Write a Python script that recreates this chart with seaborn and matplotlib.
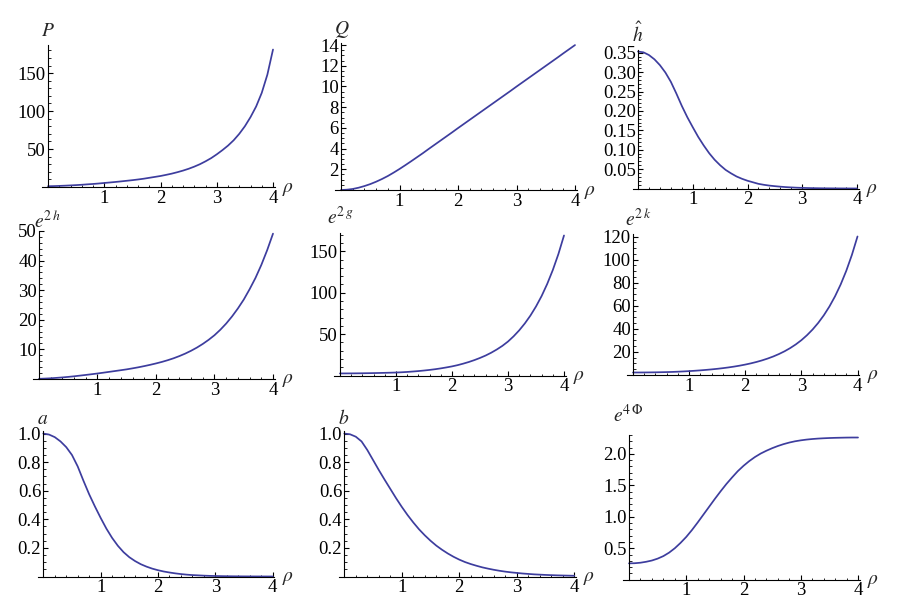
import numpy as np
import matplotlib
matplotlib.use("Agg")
import matplotlib.pyplot as plt
import matplotlib.ticker as mticker
import seaborn as sns

# ─── Visual setup ────────────────────────────────────────────
sns.set_theme(style="white")
plt.rcParams.update({
    "font.size":          13.5,
    "mathtext.fontset":   "stix",
    "axes.linewidth":     0.8,
    "xtick.direction":    "in",
    "ytick.direction":    "in",
    "xtick.major.size":   3.5,
    "ytick.major.size":   3.5,
    "xtick.minor.size":   1.8,
    "ytick.minor.size":   1.8,
    "xtick.major.width":  0.8,
    "ytick.major.width":  0.8,
    "xtick.minor.width":  0.6,
    "ytick.minor.width":  0.6,
    "xtick.color":        "black",
    "ytick.color":        "black",
    "axes.edgecolor":     "black",
})
plt.rcParams["font.family"] = ["Liberation Serif", "DejaVu Serif"]

LINE = "#3d3d9e"
W, H = 900, 615

# ─── Data ────────────────────────────────────────────────────
rho = [0.0, 0.1, 0.2, 0.3, 0.4, 0.5, 0.6, 0.7, 0.8, 0.9,
       1.0, 1.1, 1.2, 1.3, 1.4, 1.5, 1.6, 1.7, 1.8, 1.9,
       2.0, 2.1, 2.2, 2.3, 2.4, 2.5, 2.6, 2.7, 2.8, 2.9,
       3.0, 3.1, 3.2, 3.3, 3.4, 3.5, 3.6, 3.7, 3.8, 3.9, 4.0]

P = [1.0, 1.2, 1.45, 1.75, 2.1, 2.5, 2.95, 3.5, 4.0, 4.6,
     5.3, 5.95, 6.65, 7.4, 8.2, 9.0, 9.9, 10.9, 12.1, 13.3,
     14.5, 16.0, 17.6, 19.5, 21.6, 24, 26.8, 30.0, 33.8, 38.0,
     43, 48.5, 54.5, 61.5, 70, 80, 92, 106, 124, 148, 181]
Q = [0.0, 0.03, 0.1, 0.22, 0.38, 0.57, 0.8, 1.06, 1.35, 1.68,
     2.03, 2.4, 2.78, 3.17, 3.56, 3.97, 4.37, 4.77, 5.17, 5.57,
     5.98, 6.38, 6.78, 7.18, 7.58, 7.98, 8.38, 8.78, 9.18, 9.58,
     9.99, 10.39, 10.79, 11.19, 11.59, 11.99, 12.39, 12.79, 13.2, 13.6, 14.0]
h_hat = [0.353, 0.351, 0.344, 0.333, 0.318, 0.299, 0.275, 0.245, 0.213, 0.184,
         0.158, 0.133, 0.111, 0.091, 0.074, 0.06, 0.048, 0.039, 0.031, 0.025,
         0.02, 0.016, 0.012, 0.0095, 0.0075, 0.006, 0.0047, 0.0036, 0.0028, 0.0021,
         0.0016, 0.0012, 0.0009, 0.0007, 0.0005, 0.0004, 0.0003, 0.0002, 0.00015,
         0.0001, 0.0001]
e2h = [0.0, 0.08, 0.18, 0.32, 0.47, 0.65, 0.85, 1.08, 1.31, 1.55,
       1.8, 2.07, 2.35, 2.63, 2.91, 3.2, 3.54, 3.9, 4.3, 4.73,
       5.2, 5.71, 6.29, 6.94, 7.69, 8.53, 9.49, 10.57, 11.8, 13.19,
       14.75, 16.6, 18.7, 21.1, 23.8, 26.8, 30.3, 34.1, 38.5, 43.5, 49.1]
e2g = [2.5, 2.52, 2.56, 2.62, 2.7, 2.8, 2.92, 3.06, 3.22, 3.4,
       3.6, 3.9, 4.3, 4.8, 5.35, 6.0, 6.75, 7.6, 8.6, 9.75,
       11, 12.5, 14.3, 16.3, 18.6, 21.2, 24.1, 27.5, 31.4, 35.8,
       41, 47.3, 54.5, 62.8, 72.3, 83.3, 95.9, 110.5, 127.3, 146.6, 169]
e2k = [2.0, 2.01, 2.04, 2.09, 2.16, 2.25, 2.36, 2.5, 2.7, 2.93,
       3.2, 3.51, 3.86, 4.26, 4.7, 5.2, 5.76, 6.4, 7.12, 7.94,
       8.88, 9.94, 11.15, 12.53, 14.12, 15.93, 18.02, 20.41, 23.18, 26.37,
       30.06, 34.38, 39.34, 45.07, 51.68, 59.33, 68.18, 78.43, 90.31, 104.1, 120.1]
a = [1.0, 0.993, 0.975, 0.945, 0.905, 0.85, 0.77, 0.67, 0.575, 0.49,
     0.41, 0.335, 0.27, 0.215, 0.17, 0.135, 0.108, 0.086, 0.069, 0.055,
     0.044, 0.035, 0.028, 0.022, 0.017, 0.013, 0.01, 0.008, 0.006, 0.0045,
     0.0035, 0.0027, 0.002, 0.0015, 0.0011, 0.0008, 0.0006, 0.0004, 0.0003,
     0.0002, 0.0001]
b = [1.0, 0.995, 0.978, 0.945, 0.885, 0.815, 0.745, 0.678, 0.613, 0.548,
     0.487, 0.43, 0.378, 0.33, 0.288, 0.25, 0.216, 0.187, 0.161, 0.138,
     0.118, 0.101, 0.087, 0.075, 0.064, 0.055, 0.047, 0.04, 0.034, 0.029,
     0.025, 0.021, 0.018, 0.015, 0.013, 0.011, 0.0095, 0.008, 0.007, 0.006, 0.005]
e4phi = [0.26, 0.262, 0.27, 0.285, 0.305, 0.335, 0.375, 0.43, 0.5, 0.585,
         0.68, 0.79, 0.91, 1.035, 1.16, 1.285, 1.405, 1.52, 1.625, 1.725,
         1.81, 1.885, 1.95, 2.005, 2.05, 2.09, 2.125, 2.155, 2.18, 2.2,
         2.215, 2.227, 2.236, 2.243, 2.248, 2.252, 2.255, 2.257, 2.259, 2.26, 2.26]

labels = [r"$P$", r"$Q$", r"$\hat{h}$",
          r"$e^{2\,h}$", r"$e^{2\,g}$", r"$e^{2\,k}$",
          r"$a$", r"$b$", r"$e^{4\,\Phi}$"]
series = [P, Q, h_hat, e2h, e2g, e2k, a, b, e4phi]
y_top = [187, 14.2, 0.357, 50.1, 172, 122, 1.02, 1.02, 2.30]
y_major = [50, 2, 0.05, 10, 50, 20, 0.2, 0.2, 0.5]
y_minor = [10, 0.5, 0.01, 2, 10, 5, 0.05, 0.05, 0.1]
y_fmt = ["%d", "%d", "%.2f", "%d", "%d", "%d", "%.1f", "%.1f", "%.1f"]

# ─── Layout (pixels: y-axis x, x=4 x, x-axis y, top y) ──────
boxes = [
    (48, 273, 187, 45), (341, 575, 190, 43), (638, 857, 188.5, 50),
    (39, 273, 378.8, 230.7), (340, 564, 375.5, 233), (633, 857.5, 374.8, 234.3),
    (43.3, 272.7, 576.5, 430.7), (344.3, 574.3, 576.5, 430.7), (629, 858, 579.7, 435),
]
label_xy = [
    (48, 32), (342, 30), (638, 34),
    (47, 221), (340, 217), (638, 219),
    (43, 419), (344, 419), (628, 415),
]
X_LEFT, X_RIGHT = -0.1, 4.03

fig = plt.figure(figsize=(W / 100, H / 100), dpi=100)

for i in range(9):
    x0, x4, yb, yt = boxes[i]
    s = (x4 - x0) / 4
    left = (x0 + X_LEFT * s) / W
    width = (X_RIGHT - X_LEFT) * s / W
    ax = fig.add_axes([left, 1 - yb / H, width, (yb - yt) / H])

    sns.lineplot(x=rho, y=series[i], ax=ax, color=LINE, lw=1.25,
                 clip_on=False)

    ax.set_xlim(X_LEFT, X_RIGHT)
    ax.set_ylim(0, y_top[i])
    ax.spines["left"].set_position(("data", 0))
    ax.spines["top"].set_visible(False)
    ax.spines["right"].set_visible(False)
    ax.set_facecolor("none")
    ax.set_xlabel("")
    ax.set_ylabel("")

    ax.xaxis.set_major_locator(mticker.FixedLocator([1, 2, 3, 4]))
    ax.xaxis.set_minor_locator(mticker.MultipleLocator(0.2))
    yt_list = np.arange(y_major[i], y_top[i] + 1e-9, y_major[i])
    ax.yaxis.set_major_locator(mticker.FixedLocator(yt_list))
    ax.yaxis.set_minor_locator(mticker.MultipleLocator(y_minor[i]))
    ax.yaxis.set_major_formatter(mticker.FormatStrFormatter(y_fmt[i]))
    ax.tick_params(axis="x", which="both", bottom=True, pad=2, labelsize=13.5)
    ax.tick_params(axis="y", which="both", left=True, pad=1.5, labelsize=13.5)

    lx, ly = label_xy[i]
    fig.text(lx / W, 1 - ly / H, labels[i], ha="center", va="center",
             fontsize=14)
    fig.text((x4 + 15) / W, 1 - (yb + 2) / H, r"$\rho$", ha="center",
             va="center", fontsize=14)

fig.savefig("out.png", dpi=100)
